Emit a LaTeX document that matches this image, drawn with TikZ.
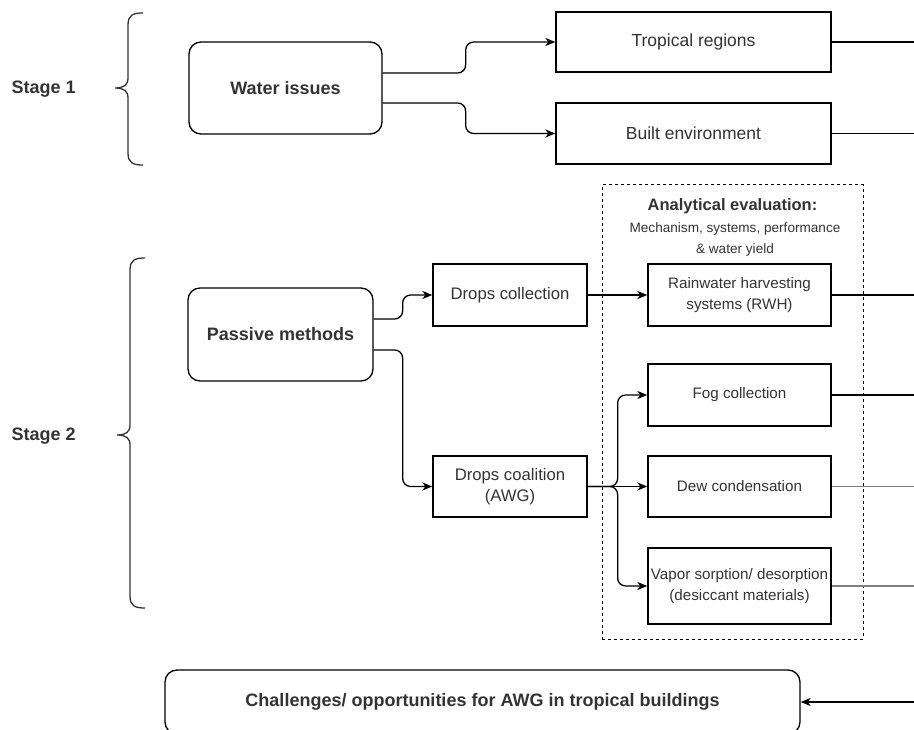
\documentclass[tikz,border=0pt]{standalone}
\usepackage{fontspec}
\setmainfont{Liberation Sans}
\usetikzlibrary{arrows.meta,calc}
\definecolor{txt}{HTML}{333333}
\tikzset{
  x=1pt,y=-1pt,
  box/.style={draw=black,line width=1.3pt,minimum width=#1,inner sep=0pt,align=center,text=txt},
  rbox/.style={box=#1,rounded corners=12pt},
  arr/.style={line width=1.3pt,-{Stealth[length=10pt,width=8pt,inset=3pt]},rounded corners=8pt},
  ln/.style={line width=1.3pt},
  brace/.style={line width=1.3pt,black!80},
  big/.style={font=\fontsize{18}{21}\selectfont\bfseries},
  reg/.style={font=\fontsize{17.5}{21}\selectfont},
  mid/.style={font=\fontsize{15.2}{21}\selectfont},
  small/.style={font=\fontsize{13.6}{21}\selectfont},
}
\begin{document}
\begin{tikzpicture}
\useasboundingbox (0,0) rectangle (914,730);
\coordinate (R) at (914,0);
% braces
\draw[brace] (143,13) .. controls (133,13) and (128,15) .. (128,25) -- (128,78) .. controls (128,85) and (124,88) .. (115,88) .. controls (124,88) and (128,91) .. (128,98) -- (128,153) .. controls (128,163) and (133,165) .. (143,165);
\draw[brace] (145,258) .. controls (135,258) and (130,260) .. (130,270) -- (130,425) .. controls (130,432) and (126,435) .. (117,435) .. controls (126,435) and (130,438) .. (130,445) -- (130,596) .. controls (130,606) and (135,608) .. (145,608);
\node[big,text=txt,anchor=west] (s1) at (8,89) {Stage 1};
\node[big,text=txt,anchor=west] (s2) at (8,436) {Stage 2};
% dashed evaluation frame
\node[draw=black,line width=1pt,dashed,minimum width=261pt,minimum height=454pt,inner sep=0pt] (ev) at (732.5,412) {};
\node[font=\fontsize{16.5}{20}\selectfont\bfseries,text=txt] (evt) at (732.5,206) {Analytical evaluation:};
\node[small,text=txt,align=center] (evs) at (735,239.5) {Mechanism, systems, performance\\\& water yield};
% stage 1
\node[rbox=193pt,minimum height=92pt,big] (wi) at (285.5,88) {Water issues};
\node[box=275pt,minimum height=60pt,reg] (tr) at (693.5,42) {Tropical regions};
\node[box=275pt,minimum height=61pt,reg] (be) at (693.5,133.5) {Built environment};
\draw[arr] ([yshift=15pt]wi.east) -- ++(83,0) |- (tr.west);
\draw[arr] ([yshift=-15pt]wi.east) -- ++(83,0) |- (be.west);
\draw[ln] (tr.east) -- (tr.east -| R);
\draw[ln] (be.east) -- (be.east -| R);
% stage 2
\node[rbox=185pt,minimum height=93pt,big] (pm) at (280.5,334.5) {Passive methods};
\node[box=154pt,minimum height=62pt,font=\fontsize{16.7}{21}\selectfont] (dcol) at (510,295) {Drops collection};
\node[box=154pt,minimum height=61pt,font=\fontsize{16.7}{21}\selectfont] (dcoa) at (510,486.5) {Drops coalition\\(AWG)};
\node[box=183pt,minimum height=62pt,mid] (rwh) at (739.5,295) {Rainwater harvesting\\systems (RWH)};
\node[box=183pt,minimum height=62pt,mid] (fog) at (739.5,395) {Fog collection};
\node[box=183pt,minimum height=61pt,mid] (dew) at (739.5,486.5) {Dew condensation};
\node[box=183pt,minimum height=76pt,mid] (vap) at (739.5,586) {Vapor sorption/ desorption\\(desiccant materials)};
\draw[arr] ([yshift=15.5pt]pm.east) -- ++(29,0) |- (dcol.west);
\draw[arr] ([yshift=-15.5pt]pm.east) -- ++(29,0) |- (dcoa.west);
\draw[arr] (dcol.east) -- (rwh.west);
\draw[arr] (dcoa.east) -- ++(30,0) |- (fog.west);
\draw[arr] (dcoa.east) -- (dew.west);
\draw[arr] (dcoa.east) -- ++(30,0) |- (vap.west);
\draw[ln] (rwh.east) -- (rwh.east -| R);
\draw[ln] (fog.east) -- (fog.east -| R);
\draw[ln,line width=1.6pt,black!50] (dew.east) -- (dew.east -| R);
\draw[ln,line width=1.6pt,black!50] (vap.east) -- (vap.east -| R);
% bottom
\node[rbox=635pt,minimum height=64pt,big] (ch) at (482.5,702) {Challenges/ opportunities for AWG in tropical buildings};
\draw[arr] (ch.east -| R) -- (ch.east);
\end{tikzpicture}
\end{document}
